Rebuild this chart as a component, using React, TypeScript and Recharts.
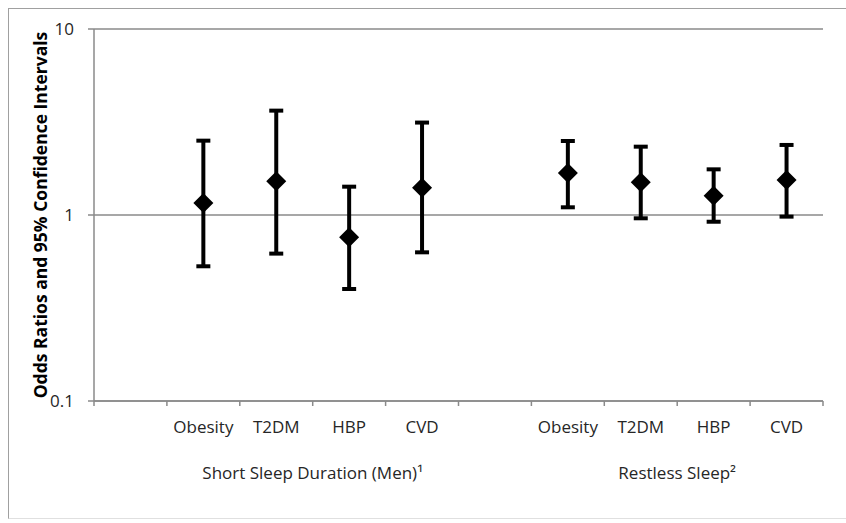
import {
  ComposedChart, Scatter, ErrorBar, XAxis, YAxis, CartesianGrid,
} from 'recharts';

const categories = ['', 'Obesity', 'T2DM', 'HBP', 'CVD', '', 'Obesity', 'T2DM', 'HBP', 'CVD'];
const oddsRatio = [null, 1.16, 1.52, 0.76, 1.40, null, 1.68, 1.50, 1.27, 1.54];
const lowerCI = [null, 0.53, 0.62, 0.40, 0.63, null, 1.10, 0.96, 0.92, 0.98];
const upperCI = [null, 2.51, 3.64, 1.42, 3.14, null, 2.50, 2.33, 1.76, 2.38];

const groupLabels = ['Short Sleep Duration (Men)\u00B9', 'Restless Sleep\u00B2'];
const groupTicks = [3, 8];
const yTicks = [0.1, 1, 10];

const data = categories.map((name, i) => {
  const or = oddsRatio[i];
  return {
    name,
    idx: i,
    or: or ?? undefined,
    err: or == null ? undefined : [or - (lowerCI[i] as number), (upperCI[i] as number) - or],
  };
});

const FONT = "'Open Sans', sans-serif";
const TEXT = '#262626';
const AXIS = '#8a8a8a';

const W = 846;
const H = 523;
const M = { top: 29, right: 23, left: 0, bottom: 0 };
const Y_W = 94;
const HALF_BAND = (W - Y_W - M.right) / categories.length / 2;

const Diamond = (props: any) => {
  const { cx, cy, payload } = props;
  if (payload?.or == null || cx == null || cy == null) return null;
  const r = 10;
  return (
    <polygon
      points={`${cx},${cy - r} ${cx + r},${cy} ${cx},${cy + r} ${cx - r},${cy}`}
      fill="#000"
    />
  );
};

// excel-style ticks: marks on band boundaries, label in the middle
const CatTick = (props: any) => {
  const { x, y, payload, index } = props;
  const axisY = y - 20;
  return (
    <g>
      <line x1={x - HALF_BAND} x2={x - HALF_BAND} y1={axisY} y2={axisY + 5} stroke={AXIS} strokeWidth={1.5} />
      {index === categories.length - 1 && (
        <line x1={x + HALF_BAND} x2={x + HALF_BAND} y1={axisY} y2={axisY + 5} stroke={AXIS} strokeWidth={1.5} />
      )}
      <text x={x} y={y} dy="0.71em" textAnchor="middle" fontSize={17} fill={TEXT} fontFamily={FONT}>
        {payload.value}
      </text>
    </g>
  );
};

const YTitle = (props: any) => {
  const { viewBox } = props;
  const cy = viewBox.y + viewBox.height / 2;
  return (
    <text
      x={40}
      y={cy}
      transform={`rotate(-90, 40, ${cy})`}
      textAnchor="middle"
      dominantBaseline="central"
      fontFamily={FONT}
      fontSize={17.5}
      fontWeight="bold"
      fill="#000"
    >
      Odds Ratios and 95% Confidence Intervals
    </text>
  );
};

export default function App() {
  return (
    <div style={{ position: 'relative', width: W, height: H, overflow: 'hidden', background: '#fff' }}>
      <style>{'body{margin:0}'}</style>
      <div
        style={{
          position: 'absolute', left: 8, top: 8, width: 900, height: 509,
          borderTop: '1px solid #a0a0a0', borderLeft: '1px solid #a0a0a0', borderBottom: '1px solid #e0e0e0',
        }}
      />
      <div style={{ position: 'absolute', left: 0, top: 0 }}>
        <ComposedChart width={W} height={H} data={data} margin={M}>
          <CartesianGrid vertical={false} stroke={AXIS} strokeWidth={1.5} />
          <XAxis
            dataKey="name"
            type="category"
            allowDuplicatedCategory
            padding={{ left: HALF_BAND, right: HALF_BAND }}
            height={50}
            stroke={AXIS}
            strokeWidth={1.5}
            tickLine={false}
            tickSize={5}
            tickMargin={15}
            interval={0}
            tick={<CatTick />}
          />
          <XAxis
            xAxisId="group"
            dataKey="idx"
            type="number"
            domain={[0, 10]}
            allowDataOverflow
            ticks={groupTicks}
            tickFormatter={(v: number) => groupLabels[groupTicks.indexOf(v)] ?? ''}
            height={72}
            axisLine={false}
            tickLine={false}
            tickSize={0}
            tickMargin={16}
            interval={0}
            tick={{ fontSize: 17, fill: TEXT, fontFamily: FONT }}
          />
          <YAxis
            scale="log"
            domain={[0.1, 10]}
            ticks={yTicks}
            allowDataOverflow
            width={Y_W}
            stroke={AXIS}
            strokeWidth={1.5}
            tickSize={6}
            tickMargin={14}
            interval={0}
            tickFormatter={(v: number) => String(v)}
            tick={{ fontSize: 17, fill: TEXT, fontFamily: FONT }}
            label={{ content: <YTitle /> }}
          />
          <Scatter dataKey="or" shape={<Diamond />} isAnimationActive={false}>
            <ErrorBar dataKey="err" direction="y" width={7} stroke="#000" strokeWidth={4} />
          </Scatter>
        </ComposedChart>
      </div>
    </div>
  );
}
